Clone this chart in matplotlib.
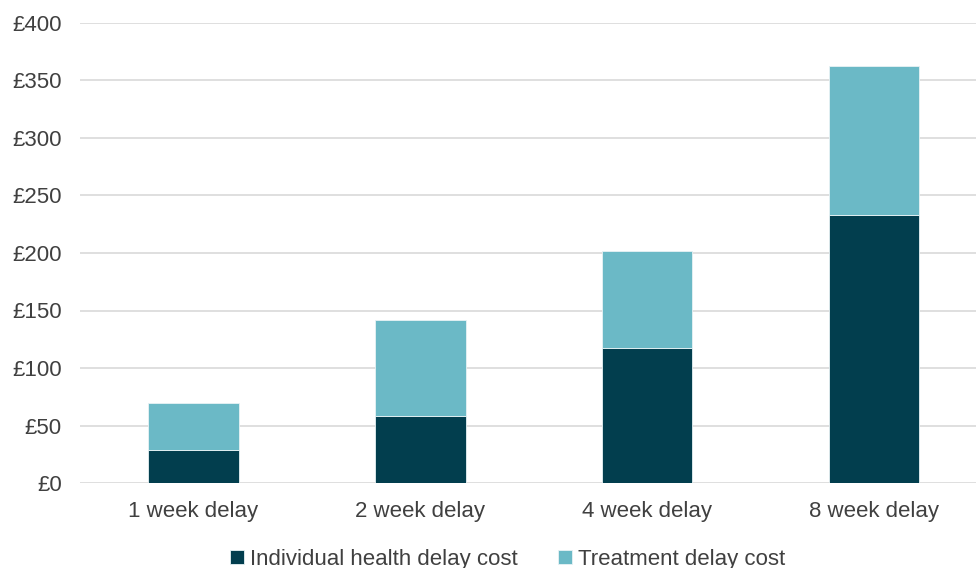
import matplotlib
matplotlib.use("Agg")
import matplotlib.pyplot as plt
import numpy as np

categories = ["1 week delay", "2 week delay", "4 week delay", "8 week delay"]
individual_cost = [29, 58, 117, 233]
treatment_cost = [41, 84, 85, 130]
yticks = [0, 50, 100, 150, 200, 250, 300, 350, 400]
ytick_labels = ["£0", "£50", "£100", "£150", "£200", "£250", "£300", "£350", "£400"]
series_names = ["Individual health delay cost", "Treatment delay cost"]

dark = "#023E4E"
light = "#6BB9C6"
text_color = "#404040"
grid_color = "#D9D9D9"

plt.rcParams["font.family"] = ["Liberation Sans", "DejaVu Sans"]

fig = plt.figure(figsize=(9.76, 5.68), dpi=100)
ax = fig.add_axes([80 / 976, 1 - 483 / 568, 896 / 976, 460 / 568])

x = np.arange(len(categories))
w = 0.40
ax.bar(x, individual_cost, width=w, color=dark, edgecolor="#E8F2F4", linewidth=0.6,
       label=series_names[0], zorder=3)
ax.bar(x, treatment_cost, width=w, bottom=individual_cost, color=light,
       edgecolor="#E8F2F4", linewidth=0.6, label=series_names[1], zorder=3)

ax.set_xlim(-0.5, 3.45)
ax.set_ylim(0, 400)
ax.set_yticks(yticks)
ax.set_yticklabels(ytick_labels)
ax.set_xticks(x)
ax.set_xticklabels(categories)

ax.yaxis.grid(True, color=grid_color, linewidth=1.2, zorder=0)
ax.set_axisbelow(True)
for s in ax.spines.values():
    s.set_visible(False)
ax.tick_params(axis="both", length=0, labelsize=16, colors=text_color)
ax.tick_params(axis="y", pad=13)
ax.tick_params(axis="x", pad=13)

leg = fig.legend(loc="center", bbox_to_anchor=(508 / 976, 1 - 559 / 568), ncol=2,
                 frameon=False, fontsize=16, handlelength=0.6, handleheight=0.6,
                 handletextpad=0.3, columnspacing=1.8)
for t in leg.get_texts():
    t.set_color(text_color)

fig.savefig("out.png", dpi=100)
